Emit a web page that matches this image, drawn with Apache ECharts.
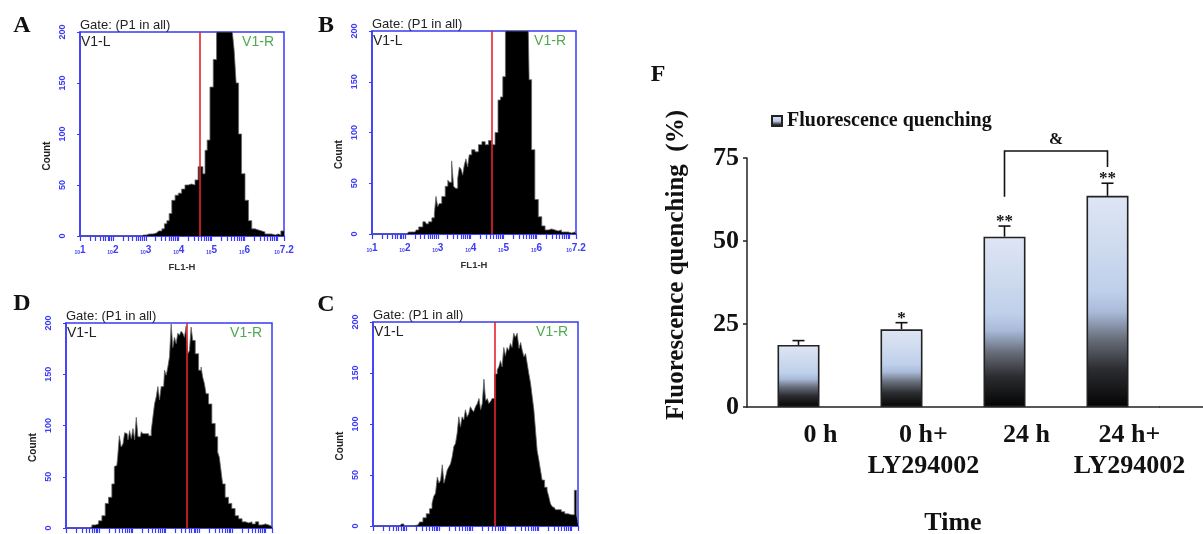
<!DOCTYPE html>
<html><head><meta charset="utf-8">
<script src="https://cdn.jsdelivr.net/npm/echarts@6/dist/echarts.min.js"></script>
<style>html,body{margin:0;padding:0;background:#fff}#c{width:1203px;height:534px}</style>
</head><body><div id="c"></div>
<script>
// ---- Flow cytometry histograms: [log10(FL1-H), count] ----
const histA = [[1,0],[2.8,0],[2.93,1],[3.1,2],[3.33,3],[3.45,5],[3.53,7],[3.6,12],[3.68,15],[3.74,22],[3.84,35],[3.94,40],[4.04,42],[4.14,46],[4.24,50],[4.34,51],[4.44,50],[4.55,55],[4.63,68],[4.70,68],[4.77,61],[4.83,84],[4.90,94],[5.00,146],[5.10,173],[5.20,200],[5.3,200],[5.4,200],[5.5,200],[5.6,200],[5.66,200],[5.71,182],[5.78,150],[5.86,100],[5.96,61],[6.07,35],[6.17,15],[6.27,7],[6.37,6],[6.47,5],[6.57,4],[6.67,2],[6.78,2],[6.88,1],[6.98,2],[7.08,1],[7.13,5],[7.2,5]];
const histB = [[1,0],[2.06,0],[2.16,2],[2.31,2],[2.37,4],[2.47,7],[2.62,12],[2.67,10],[2.77,12],[2.87,16],[2.92,20],[2.97,37],[3.02,27],[3.07,30],[3.17,37],[3.28,47],[3.33,53],[3.38,51],[3.46,72],[3.50,47],[3.58,45],[3.63,55],[3.68,66],[3.73,64],[3.78,58],[3.83,68],[3.88,74],[3.93,66],[3.98,78],[4.08,83],[4.18,81],[4.29,88],[4.39,91],[4.49,88],[4.59,92],[4.69,88],[4.79,100],[4.87,132],[4.94,135],[5.01,155],[5.10,200],[5.4,200],[5.75,200],[5.80,152],[5.90,83],[6.00,34],[6.11,17],[6.21,8],[6.31,4],[6.41,5],[6.51,4],[6.61,3],[6.71,4],[6.81,2],[6.91,2],[7.02,1],[7.12,2],[7.2,2]];
const histD = [[1,0],[1.68,0],[1.73,1],[1.83,3],[1.93,4],[2.03,7],[2.13,12],[2.23,24],[2.33,30],[2.43,43],[2.48,60],[2.53,61],[2.58,69],[2.63,90],[2.69,79],[2.74,82],[2.79,93],[2.84,92],[2.89,86],[2.94,95],[2.99,87],[3.04,97],[3.09,86],[3.14,108],[3.19,89],[3.24,89],[3.29,94],[3.34,92],[3.44,92],[3.54,90],[3.59,95],[3.64,108],[3.69,121],[3.74,128],[3.79,138],[3.84,125],[3.89,138],[3.94,138],[3.99,154],[4.04,149],[4.09,157],[4.14,167],[4.19,199],[4.24,176],[4.29,186],[4.34,180],[4.39,190],[4.44,188],[4.49,192],[4.54,190],[4.59,186],[4.64,197],[4.69,170],[4.74,173],[4.79,196],[4.84,183],[4.94,170],[5.04,154],[5.09,157],[5.14,147],[5.19,141],[5.24,131],[5.34,121],[5.44,102],[5.54,89],[5.59,74],[5.64,69],[5.69,56],[5.74,43],[5.84,30],[5.94,24],[6.04,19],[6.14,12],[6.25,9],[6.35,6],[6.45,5],[6.55,6],[6.65,4],[6.75,6],[6.85,3],[6.95,4],[7.05,3],[7.15,2],[7.2,2]];
const histC = [[1,0],[1.81,0],[1.91,2],[1.96,0],[2.36,1],[2.46,4],[2.56,8],[2.66,12],[2.76,17],[2.81,22],[2.86,29],[2.92,32],[2.97,48],[3.02,42],[3.07,45],[3.12,60],[3.17,42],[3.22,48],[3.27,55],[3.32,58],[3.37,61],[3.42,68],[3.47,78],[3.52,81],[3.57,91],[3.62,107],[3.67,97],[3.72,107],[3.77,104],[3.82,114],[3.87,107],[3.92,110],[3.97,117],[4.02,114],[4.07,112],[4.13,117],[4.18,120],[4.23,125],[4.28,114],[4.33,120],[4.38,144],[4.43,123],[4.48,125],[4.53,120],[4.58,122],[4.63,125],[4.73,149],[4.78,153],[4.83,156],[4.88,162],[4.93,156],[4.98,175],[5.03,167],[5.08,175],[5.13,172],[5.18,179],[5.23,175],[5.28,189],[5.33,185],[5.39,189],[5.44,174],[5.49,180],[5.54,172],[5.59,166],[5.64,169],[5.69,159],[5.74,149],[5.79,140],[5.84,127],[5.89,114],[5.94,94],[5.99,74],[6.04,65],[6.09,55],[6.14,45],[6.24,38],[6.29,35],[6.34,29],[6.39,22],[6.44,19],[6.49,18],[6.54,16],[6.64,16],[6.75,14],[6.85,12],[6.95,11],[7.05,11],[7.13,35],[7.18,11],[7.2,11]];
const gates = [4.65, 4.65, 4.64, 4.69];           // A, B, D, C (log10 units)
const panelLetters = ['A', 'B', 'D', 'C'];
const decadeValues = [1, 2, 3, 4, 5, 6, 7.2];
const decadeLabels = ['1', '2', '3', '4', '5', '6', '7.2'];
const countTicks = [0, 50, 100, 150, 200];

// ---- Panel F bar chart ----
const categories = ['0 h', '0 h+\nLY294002', '24 h', '24 h+\nLY294002'];
const quenching = [18.7, 23.4, 51.3, 63.6];
const quenchErr = [1.3, 2.0, 3.2, 3.8];
const signif = ['', '*', '**', '**'];
const bracket = [[2, 3, 77.1, 63.3, 72.3]]; // from, to, top, left leg end, right leg end
const bracketLabel = '&';

const BLUE = '#3a3af8';
const SANS = '"Liberation Sans", Arial, sans-serif';
const SERIF = '"Liberation Serif", "Times New Roman", serif';

// tick positions on a log10 axis (decades + 2..9 subdivisions)
const tickVals = [];
for (let d = 1; d <= 7; d++) {
  tickVals.push(d);
  if (d < 7) for (let k = 2; k <= 9; k++) tickVals.push(d + Math.log10(k));
}
tickVals.push(7.2);

const histGrids = [
  {left: 80, top: 32, width: 204, height: 204},
  {left: 372, top: 31, width: 204, height: 203},
  {left: 66, top: 323, width: 206, height: 205},
  {left: 373, top: 322, width: 205, height: 204}
];
const letterPos = [[22, 26], [326, 26], [22, 304], [326, 305]];
const histData = [histA, histB, histD, histC];

const grid = histGrids.map(g => Object.assign({show: true, borderColor: BLUE, borderWidth: 1.5, backgroundColor: 'transparent', outerBoundsMode: 'none', containLabel: false}, g));
grid.push({left: 747, top: 158, width: 412, height: 249, outerBoundsMode: 'none', containLabel: false});

const xAxis = [], yAxis = [], series = [], graphic = [];
histGrids.forEach((g, i) => {
  xAxis.push({
    type: 'value', gridIndex: i, min: 1, max: 7.2,
    axisLine: {show: true, lineStyle: {color: BLUE, width: 1.5}},
    axisTick: {show: true, length: 5, customValues: tickVals, lineStyle: {color: BLUE, width: 1.2}},
    axisLabel: {
      show: true, margin: 9, customValues: decadeValues,
      formatter: v => {
        const idx = decadeValues.findIndex(d => Math.abs(d - v) < 1e-6);
        return '{a|10}{b|' + decadeLabels[idx] + '}';
      },
      rich: {
        a: {fontSize: 5, fontWeight: 'bold', color: BLUE, fontFamily: SANS, verticalAlign: 'bottom', padding: [5, 0, 0, 0]},
        b: {fontSize: 10, fontWeight: 'bold', color: BLUE, fontFamily: SANS}
      }
    },
    splitLine: {show: false},
    name: 'FL1-H', nameLocation: 'middle', nameGap: 26,
    nameTextStyle: {fontSize: 9.5, fontWeight: 'bold', color: '#333', fontFamily: SANS}
  });
  yAxis.push({
    type: 'value', gridIndex: i, min: 0, max: 200, interval: 50,
    axisLine: {show: true, lineStyle: {color: BLUE, width: 1.5}},
    axisTick: {show: true, length: 3, lineStyle: {color: BLUE}},
    axisLabel: {rotate: 90, margin: 13, fontSize: 9, fontWeight: 'bold', color: BLUE, fontFamily: SANS,
      customValues: countTicks},
    splitLine: {show: false}
  });
  series.push({
    type: 'line', name: 'hist' + panelLetters[i], xAxisIndex: i, yAxisIndex: i,
    data: histData[i], step: 'middle', showSymbol: false, symbol: 'none',
    lineStyle: {color: '#666', width: 0.8}, areaStyle: {color: '#000', opacity: 1},
    clip: true, silent: true,
    markLine: {
      silent: true, symbol: 'none', label: {show: false},
      lineStyle: {color: '#e8222c', width: 1.6, type: 'solid'},
      data: [{xAxis: gates[i]}], animation: false
    }
  });
  graphic.push(
    {type: 'text', left: g.left, top: g.top - 13, style: {text: 'Gate: (P1 in all)', font: '13px ' + SANS, fill: '#222'}},
    {type: 'text', left: g.left + 1, top: g.top + 3, style: {text: 'V1-L', font: '14px ' + SANS, fill: '#222'}},
    {type: 'text', right: 1203 - (g.left + g.width) + 10, top: g.top + 3, style: {text: 'V1-R', font: '14px ' + SANS, fill: '#4fa94d'}},
    {type: 'text', x: g.left - 33, y: g.top + g.height / 2 + 22, rotation: Math.PI / 2,
      style: {text: 'Count', font: 'bold 10px ' + SANS, fill: '#222', align: 'center', verticalAlign: 'middle'}},
    {type: 'text', x: letterPos[i][0], y: letterPos[i][1], style: {text: panelLetters[i], font: 'bold 24px ' + SERIF, fill: '#111', align: 'center', verticalAlign: 'middle'}}
  );
});

// Panel F axes
xAxis.push({
  type: 'category', gridIndex: 4, data: categories,
  axisLine: {show: true, lineStyle: {color: '#222', width: 1.5}},
  axisTick: {show: false},
  axisLabel: {interval: 0, hideOverlap: false, margin: 13, fontSize: 26, fontWeight: 'bold', color: '#111', fontFamily: SERIF, lineHeight: 31, padding: [0, 0, 0, 44]},
  name: 'Time', nameLocation: 'middle', nameGap: 103,
  nameTextStyle: {fontSize: 26, fontWeight: 'bold', color: '#111', fontFamily: SERIF}
});
yAxis.push({
  type: 'value', gridIndex: 4, min: 0, max: 75, interval: 25,
  axisLine: {show: true, lineStyle: {color: '#222', width: 1.5}},
  axisTick: {show: true, length: 4, lineStyle: {color: '#222', width: 1.5}},
  axisLabel: {margin: 8, fontSize: 26, fontWeight: 'bold', color: '#111', fontFamily: SERIF},
  splitLine: {show: false}
});

series.push({
  type: 'bar', name: 'Fluorescence quenching', xAxisIndex: 4, yAxisIndex: 4,
  data: quenching, barWidth: 42,
  itemStyle: {
    borderColor: '#222', borderWidth: 1.6,
    color: new echarts.graphic.LinearGradient(0, 0, 0, 1, [
      {offset: 0, color: '#dfe6f4'},
      {offset: 0.45, color: '#bfd0ea'},
      {offset: 0.55, color: '#a9bbd9'},
      {offset: 0.68, color: '#676d79'},
      {offset: 0.82, color: '#2c2d31'},
      {offset: 1, color: '#030303'}
    ])
  }
});
series.push({
  type: 'custom', name: 'err', xAxisIndex: 4, yAxisIndex: 4, clip: false, silent: true,
  data: quenching.map((v, i) => [i, v, quenchErr[i]]),
  encode: {x: 0, y: 1},
  renderItem: (params, api) => {
    const i = api.value(0), v = api.value(1), e = api.value(2);
    const p0 = api.coord([i, v]), p1 = api.coord([i, v + e]);
    return {type: 'group', children: [
      {type: 'line', shape: {x1: p0[0], y1: p0[1], x2: p1[0], y2: p1[1]}, style: {stroke: '#111', lineWidth: 1.6}},
      {type: 'line', shape: {x1: p1[0] - 6, y1: p1[1], x2: p1[0] + 6, y2: p1[1]}, style: {stroke: '#111', lineWidth: 1.6}},
      {type: 'text', x: p1[0], y: p1[1] + 4, style: {text: signif[params.dataIndex], font: 'bold 17px ' + SERIF, fill: '#111', align: 'center', verticalAlign: 'bottom'}}
    ]};
  }
});
series.push({
  type: 'custom', name: 'bracket', xAxisIndex: 4, yAxisIndex: 4, clip: false, silent: true,
  data: bracket, encode: {x: 0, y: 2},
  renderItem: (params, api) => {
    const a = api.value(0), b = api.value(1), top = api.value(2), la = api.value(3), lb = api.value(4);
    const pA = api.coord([a, la]), pAt = api.coord([a, top]), pBt = api.coord([b, top]), pB = api.coord([b, lb]);
    return {type: 'group', children: [
      {type: 'polyline', shape: {points: [pA, pAt, pBt, pB]}, style: {stroke: '#111', lineWidth: 1.6, fill: null}},
      {type: 'text', x: (pAt[0] + pBt[0]) / 2, y: pAt[1] - 3, style: {text: bracketLabel, font: 'bold 17px ' + SERIF, fill: '#111', align: 'center', verticalAlign: 'bottom'}}
    ]};
  }
});

graphic.push(
  {type: 'line', shape: {x1: 1159, y1: 407, x2: 1203, y2: 407}, style: {stroke: '#222', lineWidth: 1.5}},
  {type: 'text', x: 677, y: 265, rotation: Math.PI / 2,
    style: {text: 'Fluorescence quenching  (%)', font: 'bold 25px ' + SERIF, fill: '#111', align: 'center', verticalAlign: 'middle'}},
  {type: 'text', x: 658, y: 75, style: {text: 'F', font: 'bold 24px ' + SERIF, fill: '#111', align: 'center', verticalAlign: 'middle'}}
);

const chart = echarts.init(document.getElementById('c'), null, {renderer: 'canvas'});
chart.setOption({
  animation: false,
  backgroundColor: '#fff',
  grid, xAxis, yAxis, series, graphic,
  legend: {
    data: ['Fluorescence quenching'], left: 766, top: 106, icon: 'rect', itemWidth: 10, itemHeight: 10,
    textStyle: {fontSize: 20, fontWeight: 'bold', color: '#111', fontFamily: SERIF}
  }
});
</script></body></html>
